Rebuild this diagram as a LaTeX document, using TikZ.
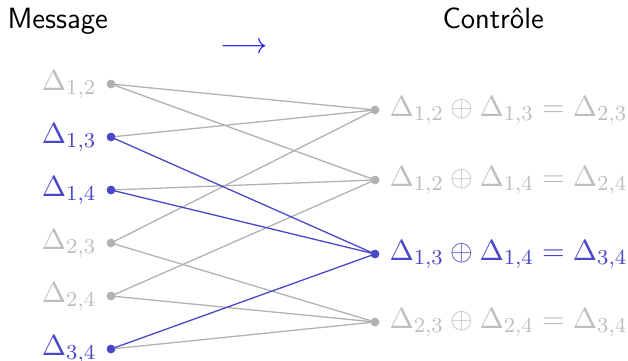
\documentclass[tikz,border=0pt]{standalone}
\usepackage{amsmath}
\definecolor{ltgray}{RGB}{178,178,178}
\definecolor{txgray}{RGB}{190,190,190}
\definecolor{hblue}{RGB}{72,72,200}
\definecolor{arrblue}{RGB}{20,20,245}
\begin{document}
\begin{tikzpicture}[x=1pt,y=-1pt,
  big/.style={font=\fontsize{11}{13.6}\selectfont, inner sep=0pt, scale=2.66, transform shape},
  dotg/.style={circle, fill=ltgray, inner sep=0pt, minimum size=8.5pt},
  dotb/.style={circle, fill=hblue, inner sep=0pt, minimum size=8.5pt},
  eg/.style={draw=ltgray, line width=1.3pt},
  eb/.style={draw=hblue, line width=1.3pt},
  lg/.style={big, text=txgray},
  lb/.style={big, text=hblue}]
\useasboundingbox (0,0) rectangle (628,360);
% titles
\node[big, anchor=base west, font=\fontsize{11}{13.6}\selectfont\sffamily] (msg) at (7,28) {Message};
\node[big, anchor=base west, font=\fontsize{11}{13.6}\selectfont\sffamily] (ctl) at (442,28) {Contrôle};
\node[big, anchor=base west, text=arrblue] (arr) at (220,53) {$\longrightarrow$};
% dots
\node[dotg] (l1) at (111,84) {};
\node[dotb] (l2) at (111,137) {};
\node[dotb] (l3) at (111,190) {};
\node[dotg] (l4) at (111,243) {};
\node[dotg] (l5) at (111,296) {};
\node[dotb] (l6) at (111,349) {};
\node[dotg] (r1) at (375,110) {};
\node[dotg] (r2) at (375,180) {};
\node[dotb] (r3) at (375,254) {};
\node[dotg] (r4) at (375,322) {};
% edges
\draw[eg] (l1.center) -- (r1.center);
\draw[eg] (l2.center) -- (r1.center);
\draw[eg] (l4.center) -- (r1.center);
\draw[eg] (l1.center) -- (r2.center);
\draw[eg] (l3.center) -- (r2.center);
\draw[eg] (l5.center) -- (r2.center);
\draw[eg] (l4.center) -- (r4.center);
\draw[eg] (l5.center) -- (r4.center);
\draw[eg] (l6.center) -- (r4.center);
\draw[eb] (l2.center) -- (r3.center);
\draw[eb] (l3.center) -- (r3.center);
\draw[eb] (l6.center) -- (r3.center);
% redraw dots on top
\foreach \n/\s in {l1/dotg,l2/dotb,l3/dotb,l4/dotg,l5/dotg,l6/dotb,r1/dotg,r2/dotg,r3/dotb,r4/dotg}
  \node[\s] at (\n.center) {};
% left labels
\node[lg, anchor=base east] (t1) at (97,90) {$\Delta_{1,2}$};
\node[lb, anchor=base east] (t2) at (97,143) {$\Delta_{1,3}$};
\node[lb, anchor=base east] (t3) at (97,196) {$\Delta_{1,4}$};
\node[lg, anchor=base east] (t4) at (97,249) {$\Delta_{2,3}$};
\node[lg, anchor=base east] (t5) at (97,302) {$\Delta_{2,4}$};
\node[lb, anchor=base east] (t6) at (97,355) {$\Delta_{3,4}$};
% right labels
\node[lg, anchor=base west] (u1) at (389,116) {$\Delta_{1,2}\oplus\Delta_{1,3}=\Delta_{2,3}$};
\node[lg, anchor=base west] (u2) at (389,186) {$\Delta_{1,2}\oplus\Delta_{1,4}=\Delta_{2,4}$};
\node[lb, anchor=base west] (u3) at (389,260) {$\Delta_{1,3}\oplus\Delta_{1,4}=\Delta_{3,4}$};
\node[lg, anchor=base west] (u4) at (389,328) {$\Delta_{2,3}\oplus\Delta_{2,4}=\Delta_{3,4}$};
\end{tikzpicture}
\end{document}
